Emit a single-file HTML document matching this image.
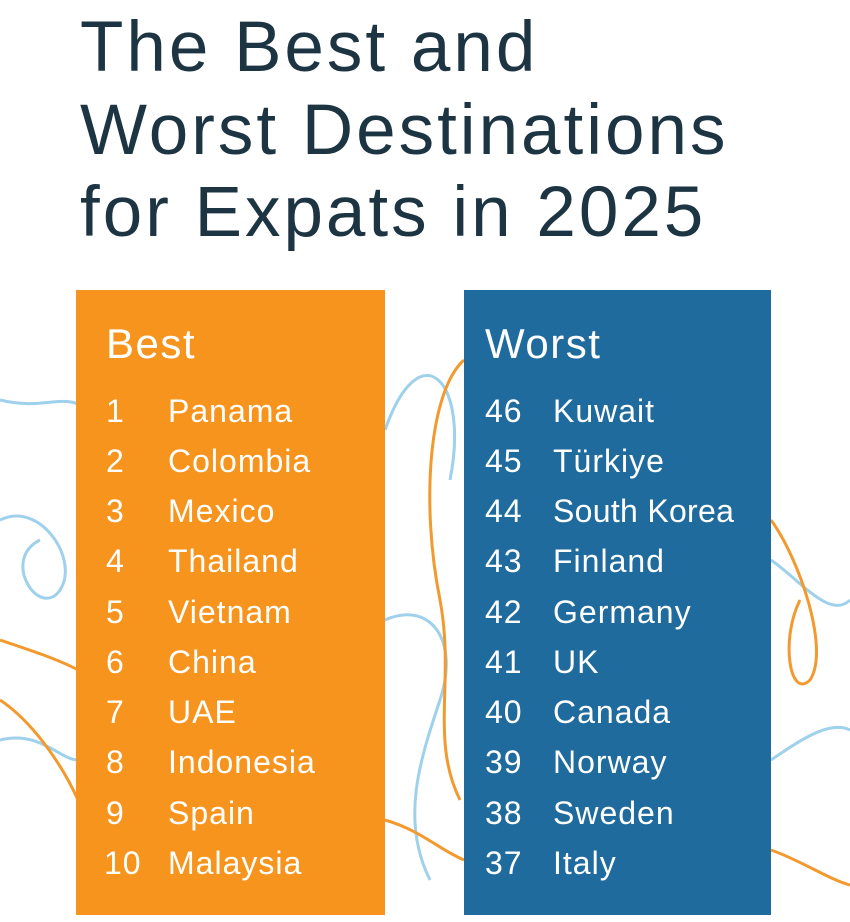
<!DOCTYPE html>
<html><head><meta charset="utf-8"><style>
body{margin:0;width:850px;height:922px;background:#fff;position:relative;overflow:hidden;font-family:"Liberation Sans",sans-serif}
.t{position:absolute;left:80px;font-size:71px;color:#1d3543;line-height:1;letter-spacing:3px;white-space:nowrap}
.box{position:absolute;top:290px;height:625px}
.h{position:absolute;font-size:42px;color:#fff;top:320px;letter-spacing:1.5px}
.r{position:absolute;font-size:32px;color:#fff;line-height:1;white-space:nowrap;letter-spacing:1px}
</style></head><body>
<svg width="850" height="922" style="position:absolute;left:0;top:0" fill="none" stroke-width="3">
<path d="M0 400 C40 410 60 395 80 405 M385 430 C420 330 470 380 450 480" stroke="#9fd0ec"/>
<path d="M0 520 C40 500 80 560 60 590 C40 620 0 560 40 540" stroke="#9fd0ec"/>
<path d="M0 740 C40 730 60 760 78 760 M385 620 C430 600 460 640 440 700 C420 760 400 820 430 880" stroke="#9fd0ec"/>
<path d="M771 560 C800 580 830 620 850 600 M771 760 C800 740 830 720 850 730" stroke="#9fd0ec"/>
<path d="M0 640 C30 650 60 660 78 670 M0 700 C30 720 60 760 78 800" stroke="#f29a2e"/>
<path d="M464 360 C430 390 420 500 440 600 C455 680 430 740 460 800" stroke="#f29a2e"/>
<path d="M771 520 C800 560 830 650 810 680 C790 700 780 640 800 600 M771 850 C800 860 830 880 850 885" stroke="#f29a2e"/>
<path d="M385 820 C420 830 440 850 464 860" stroke="#f29a2e"/>
</svg>
<div class="t" style="top:12px">The Best and</div>
<div class="t" style="top:95px">Worst Destinations</div>
<div class="t" style="top:177px">for Expats in 2025</div>
<div class="box" style="left:76px;width:309px;background:#f7941d"></div>
<div class="box" style="left:464px;width:307px;background:#1f6b9e"></div>
<div class="h" style="left:106px">Best</div>
<div class="h" style="left:485px">Worst</div>
<div style="position:absolute;left:0;top:395px">
<div class="r" style="left:106px;top:0">1</div><div class="r" style="left:168px;top:0">Panama</div>
<div class="r" style="left:106px;top:50px">2</div><div class="r" style="left:168px;top:50px">Colombia</div>
<div class="r" style="left:106px;top:100px">3</div><div class="r" style="left:168px;top:100px">Mexico</div>
<div class="r" style="left:106px;top:150px">4</div><div class="r" style="left:168px;top:150px">Thailand</div>
<div class="r" style="left:106px;top:201px">5</div><div class="r" style="left:168px;top:201px">Vietnam</div>
<div class="r" style="left:106px;top:251px">6</div><div class="r" style="left:168px;top:251px">China</div>
<div class="r" style="left:106px;top:301px">7</div><div class="r" style="left:168px;top:301px">UAE</div>
<div class="r" style="left:106px;top:351px">8</div><div class="r" style="left:168px;top:351px">Indonesia</div>
<div class="r" style="left:106px;top:402px">9</div><div class="r" style="left:168px;top:402px">Spain</div>
<div class="r" style="left:104px;top:452px">10</div><div class="r" style="left:168px;top:452px">Malaysia</div>
<div class="r" style="left:485px;top:0">46</div><div class="r" style="left:553px;top:0">Kuwait</div>
<div class="r" style="left:485px;top:50px">45</div><div class="r" style="left:553px;top:50px">Türkiye</div>
<div class="r" style="left:485px;top:100px">44</div><div class="r" style="left:553px;top:100px;letter-spacing:0.3px">South Korea</div>
<div class="r" style="left:485px;top:150px">43</div><div class="r" style="left:553px;top:150px">Finland</div>
<div class="r" style="left:485px;top:201px">42</div><div class="r" style="left:553px;top:201px">Germany</div>
<div class="r" style="left:485px;top:251px">41</div><div class="r" style="left:553px;top:251px">UK</div>
<div class="r" style="left:485px;top:301px">40</div><div class="r" style="left:553px;top:301px">Canada</div>
<div class="r" style="left:485px;top:351px">39</div><div class="r" style="left:553px;top:351px">Norway</div>
<div class="r" style="left:485px;top:402px">38</div><div class="r" style="left:553px;top:402px">Sweden</div>
<div class="r" style="left:485px;top:452px">37</div><div class="r" style="left:553px;top:452px">Italy</div>
</div>
</body></html>
